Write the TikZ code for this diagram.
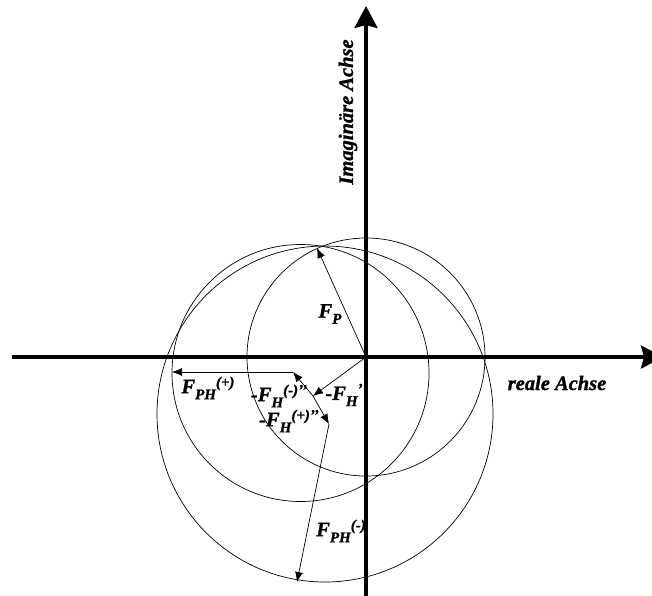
\documentclass[tikz,border=0pt]{standalone}
\usepackage{fontspec}
\setmainfont{Liberation Serif}[BoldItalicFeatures={FakeBold=1.2}]
\usetikzlibrary{arrows.meta}
\newcommand\mysub[1]{\raisebox{-0.3em}{\fontsize{15}{15}\selectfont #1}}
\newcommand\mysup[1]{\raisebox{0.3em}{\fontsize{15}{15}\selectfont #1}}
\begin{document}
\begin{tikzpicture}[x=1pt,y=-1pt,
  axis/.style={line width=3.5pt, -{Stealth[length=22pt,width=23pt,inset=3pt]}},
  vec/.style={line width=0.7pt, -{Latex[length=10pt,width=8pt]}},
  circ/.style={line width=0.7pt},
  lbl/.style={font=\fontsize{20.5}{24}\selectfont\bfseries\itshape, inner sep=0pt}]
\useasboundingbox (0,0) rectangle (652,595);
\clip (0,0) rectangle (652,595);
% points
\coordinate (O) at (366,357);
\coordinate (xs) at (12,357);
\coordinate (xe) at (663,357);
\coordinate (ys) at (366,596);
\coordinate (ye) at (366,6);
\coordinate (P) at (317,248);
\coordinate (A) at (313,396);
\coordinate (B) at (293,372);
\coordinate (C) at (329,424);
\coordinate (D) at (172,372);
\coordinate (E) at (297,582);
\coordinate (cB) at (300.5,373);
\coordinate (cC) at (325,414);
% circles
\draw[circ] (O) circle[radius=119pt];
\draw[circ] (cB) circle[radius=128.5pt];
\draw[circ] (cC) circle[radius=168pt];
% axes
\draw[axis] (xs) -- (xe);
\draw[axis] (ys) -- (ye);
% vectors
\draw[vec] (O) -- (P);
\draw[vec] (O) -- (A);
\draw[vec] (A) -- (B);
\draw[vec] (A) -- (C);
\draw[vec] (B) -- (D);
\draw[vec] (C) -- (E);
% labels
\node[lbl] (lFP) at (330,314) {F\mysub{P}};
\node[lbl] (lFPHp) at (208,388) {F\mysub{PH}\mysup{(+)}};
\node[lbl] (lFHm) at (279,396) {-F\mysub{H}\mysup{(-)’’}};
\node[lbl] (lFHp) at (289,421) {-F\mysub{H}\mysup{(+)’’}};
\node[lbl] (lFH) at (344,395) {-F\mysub{H}\mysup{’}};
\node[lbl] (lFPHm) at (341,531) {F\mysub{PH}\mysup{(-)}};
\node[lbl] (re) at (557,383) {reale Achse};
\node[lbl, rotate=90] (im) at (348,112) {Imaginäre Achse};
\end{tikzpicture}
\end{document}
